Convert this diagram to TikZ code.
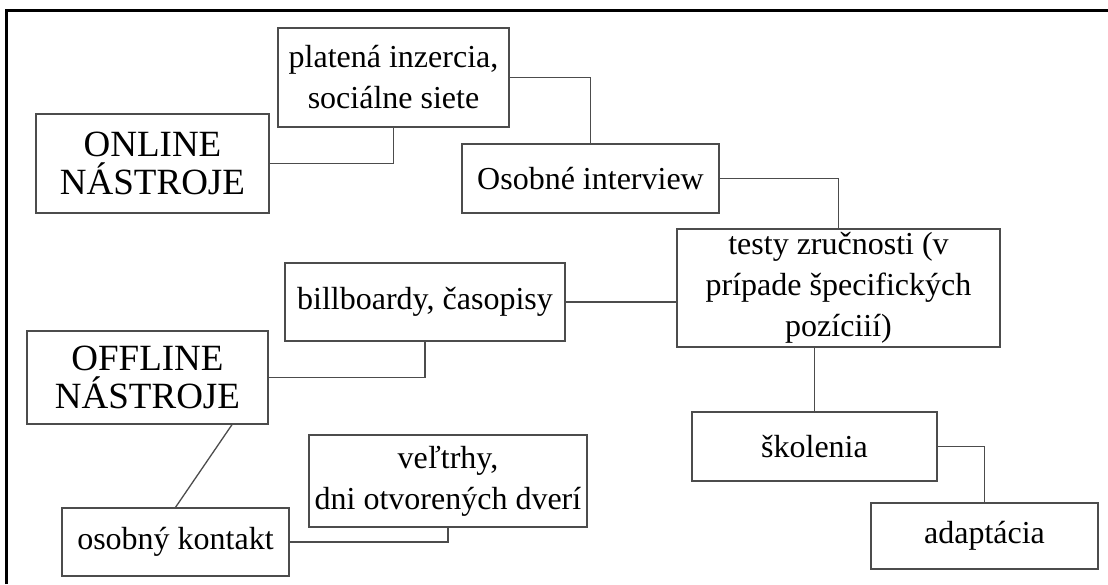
\documentclass[tikz,border=0pt]{standalone}
\usepackage{fontspec}
\setmainfont{Liberation Serif}
\usepackage{tikz}

\begin{document}
\begin{tikzpicture}[x=1pt,y=-1pt]
\tikzset{box/.style = {shape=rectangle,draw=black!70,line width=1.3pt,inner sep=0pt,
align=center,font=\fontsize{32}{41}\selectfont}}
\tikzset{bigbox/.style = {box,font=\fontsize{37}{38}\selectfont}}
\tikzset{edge/.style = {draw=black!70,line width=1.3pt}}
\useasboundingbox (0,0) rectangle (1108,584);
% frame
\draw[line width=3pt] (6,584) -- (6,10) -- (1108,10);
% boxes
\node[box,minimum width=231pt,minimum height=99pt] (plat) at (393.5,77.5) {platená inzercia,\\sociálne siete};
\node[bigbox,minimum width=233pt,minimum height=99pt] (online) at (152.5,163.5) {ONLINE\\NÁSTROJE};
\node[box,minimum width=257pt,minimum height=69pt] (osobne) at (590.5,178.5) {Osobné interview};
\node[box,minimum width=323pt,minimum height=118pt] (testy) at (838.5,288) {testy zručnosti (v\\prípade špecifických\\pozíciií)};
\node[box,minimum width=280pt,minimum height=78pt] (bill) at (425,302) {billboardy, časopisy};
\node[bigbox,minimum width=241pt,minimum height=93pt] (offline) at (147.5,377.5) {OFFLINE\\NÁSTROJE};
\node[box,minimum width=278pt,minimum height=92pt] (velt) at (448,481) {veľtrhy,\\dni otvorených dverí};
\node[box,minimum width=227pt,minimum height=68pt] (osobny) at (175.5,542) {osobný kontakt};
\node[box,minimum width=245pt,minimum height=69pt] (skol) at (814.5,446.5) {školenia};
\node[box,minimum width=227pt,minimum height=66pt] (adapt) at (984.5,536) {adaptácia};
%edges
\draw[edge] (online.east) -| (plat.south);
\draw[edge] (plat.east) -| (osobne.north);
\draw[edge] (osobne.east) -| (testy.north);
\draw[edge] (bill.east) -- (bill.east -| testy.west);
\draw[edge] (offline.east) -| (bill.south);
\draw[edge] (skol.north) -- (skol.north |- testy.south);
\draw[edge] (skol.east) -| (adapt.north);
\draw[edge] ([xshift=84.5pt]offline.south) -- (osobny.north);
\draw[edge] (velt.south) |- (osobny.east);
\end{tikzpicture}
\end{document}
